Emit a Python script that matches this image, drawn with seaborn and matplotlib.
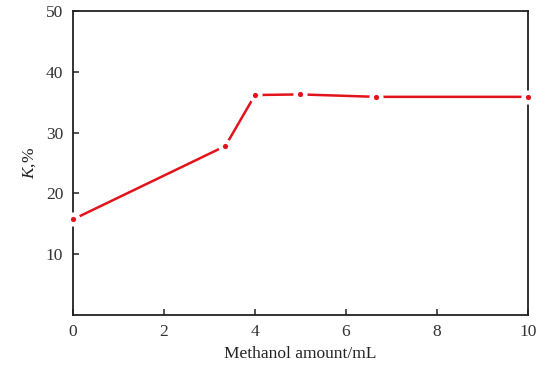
import numpy as np
import pandas as pd
import seaborn as sns
import matplotlib.pyplot as plt

# data
methanol_ml = [0.0, 3.35, 4.0, 5.0, 6.67, 10.0]
k_percent = [15.7, 27.8, 36.2, 36.3, 35.9, 35.9]

data = pd.DataFrame({'Methanol': methanol_ml, 'K': k_percent})

sns.set_style("ticks")
plt.rcParams['font.family'] = ['Liberation Serif', 'DejaVu Serif']
plt.rcParams['mathtext.fontset'] = 'custom'
plt.rcParams['mathtext.it'] = 'Liberation Serif:italic'
plt.rcParams['mathtext.rm'] = 'Liberation Serif'

fig = plt.figure(figsize=(5.47, 3.65), dpi=100)
ax = fig.add_axes([0.1335, 0.138, 0.8315, 0.831])

sns.lineplot(data=data, x='Methanol', y='K', ax=ax, color='#e3131b',
             linewidth=1.8, marker='o', markersize=7,
             markerfacecolor='#e3131b', markeredgecolor='white',
             markeredgewidth=3.2, clip_on=False, zorder=3)

ax.set_xlim(0, 10)
ax.set_ylim(0, 50)
ax.set_xticks([0, 2, 4, 6, 8, 10])
ax.set_yticks([10, 20, 30, 40, 50])

for s in ax.spines.values():
    s.set_color('#222222')
    s.set_linewidth(1.3)

ax.tick_params(direction='in', length=4.5, width=1.1, labelsize=12.5,
               colors='#222222', labelcolor='#333333', pad=7)
ax.set_xlabel('Methanol amount/mL', fontsize=12.5, color='#222222', labelpad=4)
ax.set_ylabel(r'$K$,%', fontsize=12.5, color='#222222', labelpad=6)

plt.savefig('out.png', dpi=100)
